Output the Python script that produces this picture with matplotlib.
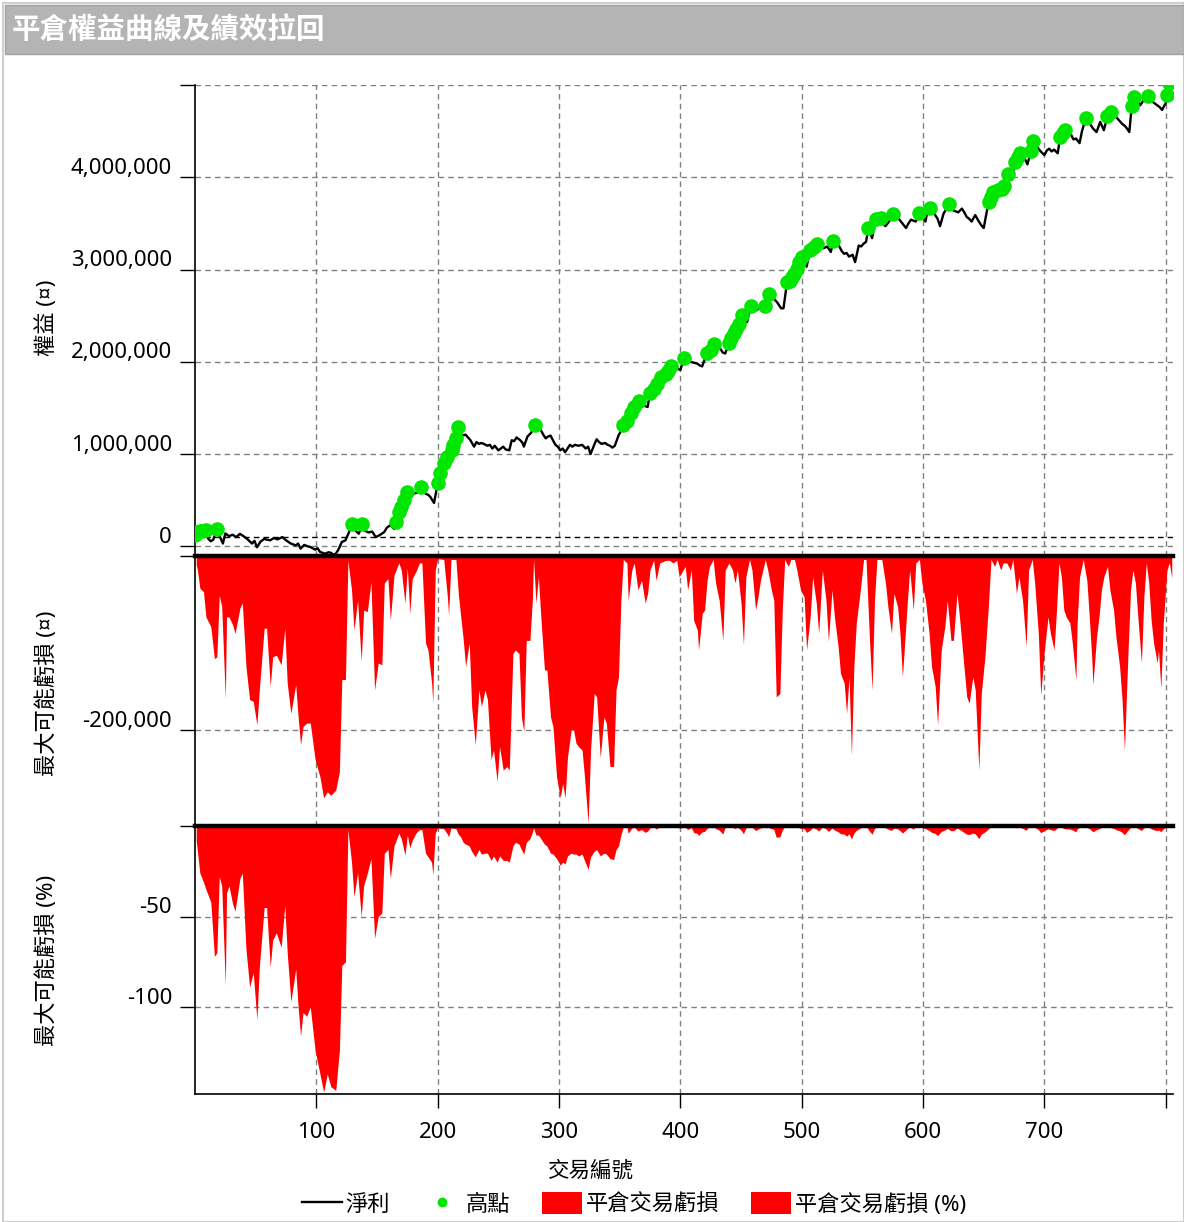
import matplotlib
matplotlib.use("Agg")
import matplotlib.pyplot as plt
import numpy as np
from matplotlib.lines import Line2D
from matplotlib.patches import Patch, Rectangle

plt.rcParams['font.family'] = ['Noto Sans', 'Noto Sans CJK TC']

# ---------------- data ----------------
title = "平倉權益曲線及績效拉回"
x_label = "交易編號"
y_labels = ["權益 (¤)", "最大可能虧損 (¤)", "最大可能虧損 (%)"]
legend_labels = ["淨利", "高點", "平倉交易虧損", "平倉交易虧損 (%)"]

x_ticks = [100, 200, 300, 400, 500, 600, 700, 800]
x_tick_labels = ["100", "200", "300", "400", "500", "600", "700", ""]
eq_ticks = [0, 1000000, 2000000, 3000000, 4000000, 5000000]
eq_tick_labels = ["0", "1,000,000", "2,000,000", "3,000,000", "4,000,000", ""]
dd_ticks = [-200000, 0]
dd_tick_labels = ["-200,000", ""]
pct_ticks = [-100, -50, 0]
pct_tick_labels = ["-100", "-50", ""]
base_line = 100000

# equity (trade number, net profit in thousands)
eq_trades = [0, 2, 4, 6, 9, 11, 13, 15, 18, 20, 23, 25, 28, 31, 34, 37, 40, 43, 47, 49, 51, 54, 57, 60, 62, 65, 68, 72, 75, 79,
             83, 85, 87, 90, 93, 95, 99, 101, 103, 107, 110, 112, 114, 116, 118, 121, 124, 127, 129, 131, 133, 135, 138, 140,
             143, 146, 149, 152, 156, 158, 161, 164, 166, 168, 170, 172, 175, 177, 179, 181, 183, 186, 188, 190, 192, 194, 197,
             199, 200, 202, 205, 208, 210, 212, 213, 215, 217, 219, 220, 223, 225, 227, 230, 232, 234, 236, 238, 241, 243, 245,
             247, 250, 252, 254, 256, 259, 261, 263, 265, 268, 270, 271, 274, 277, 280, 282, 285, 287, 289, 291, 293, 295, 297,
             299, 301, 303, 305, 307, 309, 311, 313, 316, 319, 322, 324, 326, 329, 331, 333, 335, 338, 340, 342, 344, 346, 349,
             351, 353, 356, 359, 362, 364, 366, 368, 371, 373, 375, 378, 381, 384, 386, 388, 390, 392, 396, 400, 403, 406, 408,
             411, 414, 416, 418, 419, 422, 425, 428, 430, 433, 435, 437, 440, 442, 444, 446, 448, 451, 453, 455, 458, 460, 463,
             465, 467, 470, 473, 475, 478, 480, 483, 485, 488, 490, 492, 494, 496, 498, 500, 502, 504, 507, 510, 513, 515, 518,
             521, 524, 526, 528, 531, 533, 535, 537, 539, 542, 544, 547, 549, 551, 553, 555, 558, 561, 563, 565, 567, 569, 572,
             575, 577, 580, 583, 586, 588, 590, 592, 594, 597, 600, 602, 603, 606, 608, 610, 612, 614, 617, 619, 621, 623, 625,
             627, 629, 632, 634, 636, 638, 640, 643, 646, 648, 650, 652, 654, 656, 658, 660, 662, 665, 667, 670, 671, 673, 676,
             678, 680, 683, 684, 686, 689, 691, 693, 695, 697, 700, 702, 704, 706, 708, 711, 713, 715, 717, 719, 722, 724, 726,
             729, 731, 734, 736, 738, 740, 743, 746, 749, 752, 755, 757, 760, 762, 764, 766, 768, 770, 772, 774, 776, 779, 782,
             785, 787, 789, 791, 793, 795, 797, 799, 800, 801, 803]
eq_values_k = [120, 160, 165, 170, 172, 80, 55, 70, 184, 120, 30, 140, 110, 125, 100, 135, 110, 80, 30, 60, -10, 50, 80, 70, 65, 90,
               75, 100, 65, 30, 10, 30, -25, 15, 0, -7, -36, -20, -60, -80, -65, -70, -90, -80, -40, 47, 65, 155, 245, 200, 160,
               137, 245, 170, 150, 160, 100, 120, 155, 200, 230, 190, 265, 370, 430, 500, 590, 580, 560, 575, 580, 640, 600, 570,
               560, 535, 470, 610, 690, 790, 900, 970, 900, 1040, 1100, 1170, 1290, 1240, 1200, 1210, 1180, 1150, 1080, 1130, 1110,
               1120, 1110, 1090, 1100, 1060, 1090, 1040, 1060, 1080, 1050, 1040, 1150, 1140, 1180, 1150, 1120, 1080, 1190, 1230,
               1310, 1290, 1260, 1210, 1170, 1190, 1200, 1150, 1100, 1080, 1040, 1060, 1020, 1060, 1100, 1080, 1100, 1090, 1100,
               1060, 1080, 1000, 1100, 1160, 1130, 1110, 1120, 1100, 1090, 1070, 1090, 1200, 1250, 1320, 1360, 1440, 1510, 1480,
               1580, 1530, 1520, 1510, 1660, 1710, 1760, 1840, 1820, 1870, 1900, 1950, 1940, 1910, 2040, 2010, 2000, 1990, 1980,
               1960, 1950, 1990, 2090, 2130, 2190, 2150, 2140, 2100, 2090, 2200, 2260, 2310, 2360, 2410, 2510, 2470, 2430, 2610,
               2570, 2560, 2590, 2580, 2610, 2740, 2720, 2670, 2640, 2580, 2580, 2870, 2880, 2920, 2950, 3010, 3080, 3140, 3090,
               3030, 3210, 3240, 3280, 3260, 3230, 3250, 3190, 3310, 3280, 3250, 3200, 3170, 3180, 3140, 3160, 3080, 3260, 3250,
               3280, 3300, 3450, 3340, 3550, 3530, 3560, 3500, 3470, 3520, 3600, 3580, 3550, 3500, 3450, 3500, 3540, 3530, 3520,
               3610, 3560, 3520, 3590, 3670, 3630, 3590, 3550, 3470, 3610, 3650, 3710, 3680, 3640, 3630, 3620, 3660, 3620, 3570,
               3550, 3520, 3590, 3520, 3480, 3450, 3590, 3730, 3790, 3840, 3820, 3860, 3870, 3900, 4040, 4000, 3970, 4170, 4220,
               4260, 4190, 4200, 4140, 4280, 4390, 4350, 4310, 4280, 4240, 4290, 4310, 4280, 4300, 4260, 4440, 4480, 4510, 4480,
               4460, 4410, 4420, 4370, 4500, 4640, 4600, 4570, 4530, 4490, 4600, 4510, 4660, 4710, 4680, 4640, 4610, 4580, 4560,
               4530, 4490, 4770, 4870, 4850, 4780, 4840, 4880, 4850, 4820, 4800, 4780, 4760, 4730, 4780, 4800, 4890, 5020]

# closed-trade max possible loss (trade number, loss in thousands, loss in %)
dd_trades = [1, 2, 4, 7, 9, 13, 16, 18, 20, 22, 25, 26, 28, 31, 33, 37, 39, 42, 45, 48, 51, 53, 57, 59, 62, 64, 67, 71, 74, 76,
             79, 83, 85, 87, 89, 92, 95, 99, 103, 106, 109, 112, 116, 119, 121, 124, 126, 129, 131, 134, 137, 139, 142, 145, 148,
             151, 154, 156, 159, 161, 164, 168, 170, 173, 175, 177, 179, 182, 185, 187, 190, 192, 195, 196, 198, 200, 205, 208,
             209, 211, 215, 217, 219, 221, 223, 226, 228, 231, 234, 236, 239, 241, 244, 246, 249, 251, 254, 257, 259, 262, 264,
             267, 269, 271, 273, 276, 278, 279, 281, 283, 285, 288, 290, 293, 295, 298, 301, 303, 305, 307, 310, 312, 314, 316,
             319, 321, 324, 326, 329, 331, 334, 337, 339, 342, 345, 347, 349, 351, 353, 356, 357, 360, 362, 365, 368, 371, 373,
             375, 378, 380, 383, 388, 391, 394, 397, 399, 404, 406, 409, 411, 414, 415, 418, 420, 422, 424, 427, 429, 432, 435,
             437, 440, 443, 445, 447, 450, 452, 454, 457, 459, 462, 464, 466, 470, 472, 475, 477, 479, 482, 484, 486, 489, 491,
             494, 496, 499, 502, 504, 507, 509, 512, 514, 517, 520, 522, 525, 527, 530, 532, 535, 537, 539, 541, 543, 545, 548,
             551, 553, 556, 558, 560, 562, 566, 569, 571, 574, 576, 579, 581, 583, 585, 587, 589, 592, 594, 597, 599, 602, 605,
             607, 610, 612, 615, 618, 620, 623, 625, 628, 630, 633, 636, 638, 641, 643, 646, 648, 651, 654, 656, 659, 661, 664,
             666, 669, 672, 674, 677, 679, 682, 685, 687, 690, 692, 695, 697, 700, 703, 705, 708, 710, 712, 714, 716, 718, 721,
             723, 726, 727, 729, 732, 735, 737, 739, 740, 743, 745, 747, 749, 752, 754, 757, 759, 762, 764, 766, 769, 771, 773,
             775, 777, 780, 782, 784, 786, 788, 790, 793, 794, 796, 798, 801, 803, 805]
dd_loss_k = [-10, -16, -37, -41, -70, -81, -118, -116, -45, -58, -164, -70, -70, -79, -89, -60, -54, -127, -165, -167, -194, -154,
             -83, -83, -150, -116, -114, -125, -83, -146, -181, -148, -185, -217, -196, -192, -192, -234, -254, -278, -271, -275,
             -269, -248, -142, -142, -5, -39, -85, -51, -121, -62, -64, -30, -154, -123, -125, -31, -26, -74, -22, -8, -16, -54,
             -14, -66, -26, -18, -8, -8, -100, -108, -146, -169, -16, -3, -4, -47, -68, -4, -4, -43, -70, -95, -127, -100, -173,
             -217, -154, -173, -154, -165, -234, -223, -259, -219, -246, -242, -246, -112, -108, -112, -185, -202, -97, -97, -51,
             -3, -54, -24, -70, -131, -131, -185, -196, -254, -278, -261, -278, -231, -200, -200, -215, -219, -223, -254, -307,
             -223, -158, -162, -232, -185, -192, -242, -242, -154, -139, -51, -4, -8, -51, -16, -8, -39, -28, -54, -43, -16, -5,
             -28, -8, -5, -5, -8, -5, -24, -12, -39, -16, -74, -85, -108, -66, -62, -28, -12, -4, -31, -51, -97, -16, -8, -16,
             -31, -16, -54, -102, -24, -4, -16, -62, -47, -28, -4, -16, -39, -51, -162, -158, -62, -4, -12, -4, -4, -16, -39, -47,
             -108, -70, -24, -54, -89, -16, -51, -98, -39, -70, -104, -135, -146, -181, -139, -229, -127, -77, -43, -4, -4, -100,
             -154, -51, -4, -4, -31, -58, -89, -43, -58, -89, -139, -97, -54, -16, -62, -8, -4, -31, -51, -89, -127, -150, -194,
             -108, -81, -51, -97, -97, -43, -70, -116, -162, -169, -139, -154, -246, -158, -116, -54, -4, -12, -4, -16, -8, -8,
             -16, -4, -43, -24, -51, -104, -16, -4, -31, -89, -160, -108, -70, -89, -108, -62, -8, -24, -62, -70, -77, -100, -142,
             -77, -24, -4, -28, -70, -116, -148, -93, -70, -39, -24, -12, -39, -62, -93, -127, -165, -223, -108, -39, -16, -31,
             -70, -123, -47, -8, -31, -74, -100, -123, -108, -152, -77, -16, -8, -25]
dd_pct = [-8, -14, -26, -31, -35, -42, -72, -70, -28, -33, -88, -37, -33, -43, -47, -29, -26, -68, -89, -81, -107, -78, -45, -45,
          -78, -63, -59, -67, -44, -70, -97, -79, -100, -116, -103, -105, -100, -124, -137, -147, -137, -144, -146, -124, -77,
          -75, -2, -20, -39, -26, -50, -33, -26, -18, -62, -50, -48, -15, -13, -29, -11, -4, -7, -16, -5, -12, -8, -4, -2, -2,
          -15, -17, -20, -27, -4, -1, -1.5, -4.5, -6, -1, -1.5, -4.5, -6, -9, -10, -11, -14, -17, -13, -15.5, -15, -15, -19,
          -16.5, -20, -16.5, -19, -19, -20, -11, -9, -10, -13, -15.5, -9, -7, -3.5, -1, -5, -5, -7, -10, -11, -15, -15.5, -18,
          -21.6, -20, -21, -16.5, -15, -15.5, -15.5, -16.5, -15.5, -19, -24, -17, -14, -13, -16.5, -15, -15.5, -18, -18.5, -13,
          -11, -5, -0.5, -0.6, -4, -1.2, -0.6, -2.8, -2, -3.5, -2.8, -1, -0.4, -1.7, -0.5, -0.3, -0.3, -0.5, -0.3, -1.2, -0.6,
          -2, -0.8, -3.6, -4.1, -5.2, -3.2, -3, -1.3, -0.6, -0.2, -1.4, -2.3, -4.4, -0.7, -0.4, -0.7, -1.4, -0.7, -2.3, -4.3,
          -1, -0.2, -0.6, -2.5, -1.8, -1.1, -0.2, -0.6, -1.5, -1.9, -6.2, -6, -2.3, -0.2, -0.4, -0.2, -0.2, -0.5, -1.3, -1.5,
          -3.5, -2.3, -0.8, -1.7, -2.8, -0.5, -1.6, -3, -1.2, -2.2, -3.2, -4.2, -4.5, -5.6, -4.3, -7.2, -4, -2.4, -1.3, -0.1,
          -0.1, -3, -4.5, -1.5, -0.1, -0.1, -0.9, -1.7, -2.5, -1.2, -1.6, -2.5, -3.9, -2.7, -1.5, -0.4, -1.7, -0.2, -0.1, -0.9,
          -1.4, -2.5, -3.5, -4.1, -5.3, -3, -2.2, -1.4, -2.6, -2.6, -1.2, -1.9, -3.2, -4.5, -4.7, -3.9, -4.3, -7, -4.5, -3.3,
          -1.5, -0.1, -0.3, -0.1, -0.4, -0.2, -0.2, -0.4, -0.1, -1, -0.6, -1.2, -2.4, -0.4, -0.1, -0.7, -2, -3.7, -2.5, -1.6,
          -2, -2.5, -1.4, -0.2, -0.5, -1.4, -1.6, -1.7, -2.2, -3.2, -1.7, -0.5, -0.1, -0.6, -1.5, -2.5, -3.2, -2, -1.5, -0.8,
          -0.5, -0.3, -0.8, -1.3, -2, -2.7, -3.5, -4.8, -2.3, -0.8, -0.3, -0.6, -1.4, -2.5, -1, -0.2, -0.6, -1.5, -2.1, -2.6,
          -2.2, -3.1, -1.6, -0.3, -0.2, -0.6]

# ---------------- figure ----------------
W, H = 1184, 1222
fig = plt.figure(figsize=(W / 100, H / 100), dpi=100)
fx = lambda px: px / W
fy = lambda py: 1 - py / H

# outer frame and title bar
fig.patches.append(Rectangle((fx(3), fy(1222)), fx(1184) - fx(3), fy(3) - fy(1222), transform=fig.transFigure,
                             facecolor='none', edgecolor='#cfcfcf', lw=1.5))
fig.patches.append(Rectangle((fx(5), fy(54)), fx(1184) - fx(5), fy(5) - fy(54), transform=fig.transFigure,
                             facecolor='#b4b4b4', edgecolor='#a0a0a0', lw=1))
fig.text(fx(12), fy(30), title, color='white', fontsize=20.5, ha='left', va='center', fontweight='bold')

L, R = fx(195), fx(1173)
ax1 = fig.add_axes([L, fy(556), R - L, fy(85) - fy(556)])
ax2 = fig.add_axes([L, fy(826), R - L, fy(556) - fy(826)])
ax3 = fig.add_axes([L, fy(1094), R - L, fy(826) - fy(1094)])

eq_t = np.array(eq_trades)
eq_v = np.array(eq_values_k) * 1000.0
is_high = eq_v >= np.maximum.accumulate(eq_v)

dd_t = np.array(dd_trades)
dd_v = np.array(dd_loss_k) * 1000.0
dd_p = np.array(dd_pct)

grid_kw = dict(color='#808080', linestyle=(0, (4, 3)), linewidth=1)

for ax in (ax1, ax2, ax3):
    ax.set_xlim(0, 806)
    ax.set_xticks(x_ticks)
    ax.set_axisbelow(True)
    ax.grid(True, **grid_kw)
    for s in ('top', 'right'):
        ax.spines[s].set_visible(False)
    ax.spines['left'].set_color('black')
    ax.spines['left'].set_linewidth(1.2)
    ax.tick_params(axis='y', direction='out', length=11, width=1, colors='black', labelleft=False)
    ax.tick_params(axis='x', length=0, labelbottom=False)

for ax in (ax1, ax2):
    ax.spines['bottom'].set_visible(False)
ax3.spines['bottom'].set_color('black')
ax3.spines['bottom'].set_linewidth(1.2)
ax3.tick_params(axis='x', direction='out', length=10, width=1, colors='black')

# equity panel
ax1.set_ylim(-105000, 5000000)
ax1.set_yticks(eq_ticks)
ax1.axhline(base_line, color='black', linestyle=(0, (4, 3)), linewidth=1, zorder=1.6)
ax1.plot(eq_t, eq_v, color='black', lw=1.7, zorder=3)
ax1.plot(eq_t[is_high], eq_v[is_high], 'o', color='#00e600', ms=10.5, mec='none', zorder=4)

# loss panel
ax2.set_ylim(-310300, 0)
ax2.set_yticks(dd_ticks)
ax2.fill_between(dd_t, dd_v, 0, color='#ff0000', lw=0, zorder=2)
ax2.axhline(0, color='black', lw=3.2, zorder=5, clip_on=False)

# loss % panel
ax3.set_ylim(-148, 0)
ax3.set_yticks(pct_ticks)
ax3.fill_between(dd_t, dd_p, 0, color='#ff0000', lw=0, zorder=2)
ax3.axhline(0, color='black', lw=3.2, zorder=5, clip_on=False)

# y tick labels (drawn a little above their tick marks)
for ax, ticks, labels in ((ax1, eq_ticks, eq_tick_labels), (ax2, dd_ticks, dd_tick_labels),
                          (ax3, pct_ticks, pct_tick_labels)):
    for v, lab in zip(ticks, labels):
        if lab:
            ax.annotate(lab, xy=(0, v), xycoords=ax.get_yaxis_transform(), xytext=(-23, 9),
                        textcoords='offset pixels', ha='right', va='center', fontsize=16, color='black',
                        annotation_clip=False)

# x tick labels
for v, lab in zip(x_ticks, x_tick_labels):
    if lab:
        ax3.annotate(lab, xy=(v, 0), xycoords=ax3.get_xaxis_transform(), xytext=(0, -39),
                     textcoords='offset pixels', ha='center', va='center', fontsize=16, color='black',
                     annotation_clip=False)

# axis titles
fig.text(fx(590), fy(1171), x_label, ha='center', va='center', fontsize=15.5)
fig.text(fx(47), fy(318), y_labels[0], rotation=90, ha='center', va='center', fontsize=16)
fig.text(fx(47), fy(693), y_labels[1], rotation=90, ha='center', va='center', fontsize=16)
fig.text(fx(47), fy(960), y_labels[2], rotation=90, ha='center', va='center', fontsize=16)

# legend
handles = [Line2D([], [], color='black', lw=1.7),
           Line2D([], [], marker='o', ls='none', color='#00e600', ms=7, mec='none'),
           Patch(facecolor='#ff0000', edgecolor='none'),
           Patch(facecolor='#ff0000', edgecolor='none')]
fig.legend(handles, legend_labels, loc='center', bbox_to_anchor=(fx(634), fy(1204)), ncol=4, frameon=False,
           fontsize=16, handlelength=1.8, handleheight=1.15, handletextpad=0.15, columnspacing=1.45,
           borderpad=0, borderaxespad=0)

fig.savefig('out.png', dpi=100)
